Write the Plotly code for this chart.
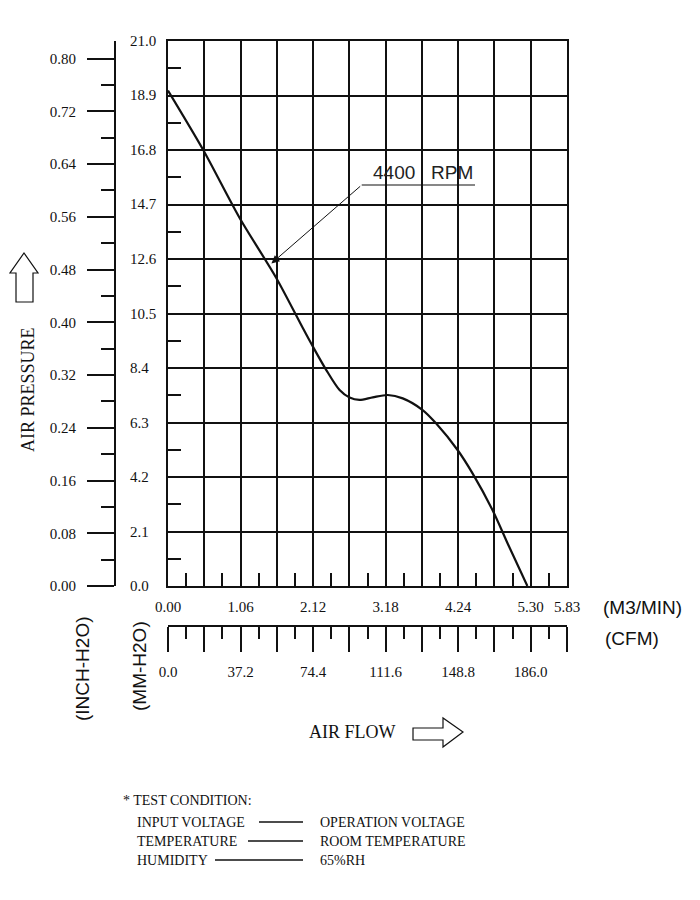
import plotly.graph_objects as go

# ---------------- data ----------------
flow_m3min = [0.00, 0.515, 1.049, 1.584, 1.972, 2.118, 2.313, 2.507, 2.653, 2.798,
              2.992, 3.211, 3.430, 3.721, 3.916, 4.231, 4.450, 4.741, 4.985, 5.251]
pressure_mm = [19.09, 16.80, 14.17, 11.86, 9.93, 9.22, 8.32, 7.55, 7.26, 7.17,
               7.27, 7.36, 7.23, 6.78, 6.27, 5.24, 4.34, 2.93, 1.51, 0.00]

m3_ticks = [0, 0.53, 1.06, 1.59, 2.12, 2.65, 3.18, 3.71, 4.24, 4.77, 5.30, 5.83]
m3_labels = ["0.00", "", "1.06", "", "2.12", "", "3.18", "", "4.24", "", "5.30", "5.83"]
m3_minor = [0.265, 0.795, 1.325, 1.855, 2.385, 2.915, 3.445, 3.975, 4.505, 5.035, 5.565]

mm_ticks = [0.0, 2.1, 4.2, 6.3, 8.4, 10.5, 12.6, 14.7, 16.8, 18.9, 21.0]
mm_labels = ["0.0", "2.1", "4.2", "6.3", "8.4", "10.5", "12.6", "14.7", "16.8", "18.9", "21.0"]
mm_minor = [1.05, 3.15, 5.25, 7.35, 9.45, 11.55, 13.65, 15.75, 17.85, 19.95]

inch_ticks = [0.00, 0.08, 0.16, 0.24, 0.32, 0.40, 0.48, 0.56, 0.64, 0.72, 0.80]
inch_labels = ["0.00", "0.08", "0.16", "0.24", "0.32", "0.40", "0.48", "0.56", "0.64", "0.72", "0.80"]
inch_minor = [0.04, 0.12, 0.20, 0.28, 0.36, 0.44, 0.52, 0.60, 0.68, 0.76]

cfm_ticks = [0, 18.6, 37.2, 55.8, 74.4, 93.0, 111.6, 130.2, 148.8, 167.4, 186.0, 204.6]
cfm_labels = ["0.0", "", "37.2", "", "74.4", "", "111.6", "", "148.8", "", "186.0", ""]
cfm_minor = [9.3, 27.9, 46.5, 65.1, 83.7, 102.3, 120.9, 139.5, 158.1, 176.7, 195.3]

MM_MAX = 21.0
M3_MAX = 5.83
CFM_PER_M3 = 204.6 / 5.83
MM_PER_INCH = 25.4

curve_label = "4400\u00a0\u00a0\u00a0RPM"
conditions = [("INPUT VOLTAGE", "OPERATION VOLTAGE"),
              ("TEMPERATURE", "ROOM TEMPERATURE"),
              ("HUMIDITY", "65%RH")]

# ---------------- layout helpers ----------------
# page body has an 8px margin, so the figure starts at (8, 8) of the window
OFF = 8
W, H = 684, 884
def px(x):
    return (x - OFF) / W
def py(y):
    return 1 - (y - OFF) / H

L, R, T, B = 168, 567, 41, 586
SERIF = "Liberation Serif, Times New Roman, serif"
SANS = "Liberation Sans, Arial, sans-serif"
BLACK = "#111111"
GW = 1.6

fig = go.Figure()

fig.add_trace(go.Scatter(x=flow_m3min, y=pressure_mm, mode="lines",
                         line=dict(color=BLACK, width=2.2, shape="spline", smoothing=0.8),
                         hoverinfo="skip", showlegend=False))
# invisible companions so the secondary axes exist
fig.add_trace(go.Scatter(x=[v * CFM_PER_M3 for v in flow_m3min], y=pressure_mm,
                         xaxis="x2", yaxis="y", mode="lines",
                         line=dict(color="rgba(0,0,0,0)", width=0),
                         hoverinfo="skip", showlegend=False))
fig.add_trace(go.Scatter(x=flow_m3min, y=[v / MM_PER_INCH for v in pressure_mm],
                         xaxis="x", yaxis="y2", mode="lines",
                         line=dict(color="rgba(0,0,0,0)", width=0),
                         hoverinfo="skip", showlegend=False))

xdom = [px(L), px(R)]
ydom = [py(B), py(T)]

fig.update_layout(
    template="none",
    width=W, height=H,
    margin=dict(l=0, r=0, t=0, b=0, autoexpand=False),
    paper_bgcolor="white", plot_bgcolor="white",
    showlegend=False,
    xaxis=dict(domain=xdom, range=[0, M3_MAX], anchor="y", automargin=False,
               tickmode="array", tickvals=m3_ticks, ticktext=m3_labels,
               showgrid=True, gridcolor=BLACK, gridwidth=GW,
               showline=True, linecolor=BLACK, linewidth=2, mirror=True,
               ticks="", zeroline=False,
               tickfont=dict(family=SERIF, size=15, color=BLACK),
               ticklabelstandoff=6,
               minor=dict(tickmode="array", tickvals=m3_minor, ticks="inside",
                          ticklen=13, tickcolor=BLACK, tickwidth=GW, showgrid=False)),
    yaxis=dict(domain=ydom, range=[0, MM_MAX], anchor="x", automargin=False,
               tickmode="array", tickvals=mm_ticks, showticklabels=False,
               showgrid=True, gridcolor=BLACK, gridwidth=GW,
               showline=True, linecolor=BLACK, linewidth=2, mirror=True,
               ticks="", zeroline=False,
               minor=dict(tickmode="array", tickvals=mm_minor, ticks="inside",
                          ticklen=13, tickcolor=BLACK, tickwidth=GW, showgrid=False)),
    xaxis2=dict(overlaying="x", anchor="free", position=py(626), side="bottom",
                automargin=False,
                range=[0, 204.6], tickmode="array", tickvals=cfm_ticks, ticktext=cfm_labels,
                showgrid=False, zeroline=False,
                showline=True, linecolor=BLACK, linewidth=1.8,
                ticks="outside", ticklen=25, tickcolor=BLACK, tickwidth=GW,
                tickfont=dict(family=SERIF, size=15, color=BLACK),
                ticklabelstandoff=7,
                minor=dict(tickmode="array", tickvals=cfm_minor, ticks="outside",
                           ticklen=12, tickcolor=BLACK, tickwidth=GW, showgrid=False)),
    yaxis2=dict(overlaying="y", anchor="free", position=px(115), side="left",
                automargin=False,
                range=[0, MM_MAX / MM_PER_INCH], tickmode="array",
                tickvals=inch_ticks, ticktext=inch_labels,
                showgrid=False, zeroline=False,
                showline=True, linecolor=BLACK, linewidth=1.8,
                ticks="outside", ticklen=27, tickcolor=BLACK, tickwidth=GW,
                tickfont=dict(family=SERIF, size=15, color=BLACK),
                ticklabelstandoff=8,
                minor=dict(tickmode="array", tickvals=inch_minor, ticks="outside",
                           ticklen=13, tickcolor=BLACK, tickwidth=GW, showgrid=False)),
)

ann = []
# MM-H2O labels, left aligned
for v, t in zip(mm_ticks, mm_labels):
    ann.append(dict(x=px(128), xref="paper", xanchor="left", y=v, yref="y",
                    yanchor="middle", text=t, showarrow=False,
                    font=dict(family=SERIF, size=15, color=BLACK)))

# curve label and leader arrow
tip_x, tip_y = 1.511, 12.43
tail_x, tail_y = (361.7 - L) / (R - L) * M3_MAX, (B - 185) / (B - T) * MM_MAX
end_x = (475 - L) / (R - L) * M3_MAX
ann.append(dict(x=tip_x, y=tip_y, xref="x", yref="y", ax=tail_x, ay=tail_y,
                axref="x", ayref="y", text="", showarrow=True,
                arrowhead=2, arrowsize=1.6, arrowwidth=1, arrowcolor=BLACK))
ann.append(dict(x=end_x, y=tail_y, xref="x", yref="y", xanchor="right", yanchor="bottom",
                yshift=0, text=curve_label, showarrow=False,
                font=dict(family=SANS, size=19, color="#222222")))

# unit labels
ann.append(dict(x=px(601), y=py(607), xref="paper", yref="paper", xanchor="left",
                yanchor="middle", text="(M3/MIN)", showarrow=False,
                font=dict(family=SANS, size=19, color=BLACK)))
ann.append(dict(x=px(603), y=py(638), xref="paper", yref="paper", xanchor="left",
                yanchor="middle", text="(CFM)", showarrow=False,
                font=dict(family=SANS, size=19, color=BLACK)))
ann.append(dict(x=px(82), y=py(669), xref="paper", yref="paper", xanchor="center",
                yanchor="middle", text="(INCH-H2O)", textangle=-90, showarrow=False,
                font=dict(family=SANS, size=19, color=BLACK)))
ann.append(dict(x=px(139), y=py(666), xref="paper", yref="paper", xanchor="center",
                yanchor="middle", text="(MM-H2O)", textangle=-90, showarrow=False,
                font=dict(family=SANS, size=19, color=BLACK)))
ann.append(dict(x=px(28), y=py(390), xref="paper", yref="paper", xanchor="center",
                yanchor="middle", text="AIR PRESSURE", textangle=-90, showarrow=False,
                font=dict(family=SERIF, size=18, color=BLACK)))
ann.append(dict(x=px(307), y=py(732), xref="paper", yref="paper", xanchor="left",
                yanchor="middle", text="AIR FLOW", showarrow=False,
                font=dict(family=SERIF, size=18, color=BLACK)))

# test conditions
ann.append(dict(x=px(121), y=py(800), xref="paper", yref="paper", xanchor="left",
                yanchor="middle", text="* TEST CONDITION:", showarrow=False,
                font=dict(family=SERIF, size=14, color=BLACK)))
cond_y = [822, 841, 860]
dash_start = [259, 248, 215]
shapes = []
for (k, v), yy, ds in zip(conditions, cond_y, dash_start):
    ann.append(dict(x=px(135), y=py(yy), xref="paper", yref="paper", xanchor="left",
                    yanchor="middle", text=k, showarrow=False,
                    font=dict(family=SERIF, size=14, color=BLACK)))
    ann.append(dict(x=px(318), y=py(yy), xref="paper", yref="paper", xanchor="left",
                    yanchor="middle", text=v, showarrow=False,
                    font=dict(family=SERIF, size=14, color=BLACK)))
    shapes.append(dict(type="line", xref="paper", yref="paper",
                       x0=px(ds), x1=px(303), y0=py(yy), y1=py(yy),
                       line=dict(color=BLACK, width=1.3)))

# underline of curve label
shapes.append(dict(type="line", xref="x", yref="y", x0=tail_x, x1=end_x,
                   y0=tail_y, y1=tail_y, line=dict(color=BLACK, width=1.2)))

# block arrows
def path(points):
    return "M " + " L ".join(f"{px(a):.5f},{py(b):.5f}" for a, b in points) + " Z"

up_arrow = [(16, 302), (16, 273), (10, 273), (24, 253), (38, 273), (33, 273), (33, 302)]
right_arrow = [(413, 728), (443, 728), (443, 718), (463, 732), (443, 747), (443, 740), (413, 740)]
for pts in (up_arrow, right_arrow):
    shapes.append(dict(type="path", xref="paper", yref="paper", path=path(pts),
                       line=dict(color=BLACK, width=1.2), fillcolor="white"))

fig.update_layout(annotations=ann, shapes=shapes)
fig.write_html("out.html")
